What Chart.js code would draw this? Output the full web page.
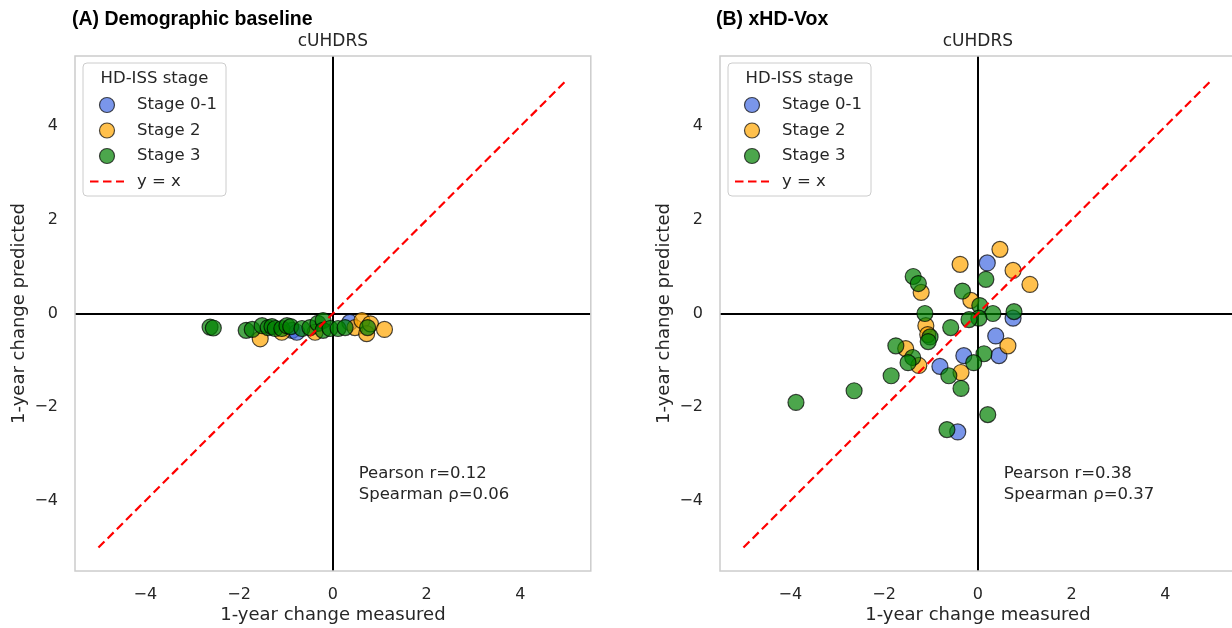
<!DOCTYPE html>
<html>
<head>
<meta charset="utf-8">
<script src="https://cdn.jsdelivr.net/npm/chart.js@4.4.1/dist/chart.umd.min.js"></script>
<style>
  html, body { margin: 0; padding: 0; background: #fff; overflow: hidden; width: 1232px; height: 628px; }
  .panel { position: absolute; top: 0; width: 600px; height: 628px; }
  .panel canvas { position: absolute; left: 0; top: 0; }
  .ptitle { position: absolute; top: 7px; font-family: "Liberation Sans", sans-serif; font-weight: bold; font-size: 19.5px; color: #000; white-space: nowrap; }
</style>
</head>
<body>
<div class="panel" style="left:0px">
  <canvas id="chartA" width="600" height="628"></canvas>
</div>
<div class="panel" style="left:645px">
  <canvas id="chartB" width="600" height="628"></canvas>
</div>
<div class="ptitle" style="left:72px">(A) Demographic baseline</div>
<div class="ptitle" style="left:716px">(B) xHD-Vox</div>
<script>
// 축 눈금
const tickValues = [-4, -2, 0, 2, 4];
const axisMin = -5.5, axisMax = 5.5;
const identityLine = [[-5, -5], [5, 5]];
const stageLabels = ['Stage 0-1', 'Stage 2', 'Stage 3'];

// (A) Demographic baseline  [measured, predicted]
const demoStage01 = [[-0.87, -0.36], [-0.77, -0.40], [0.36, -0.19]];
const demoStage2 = [[-1.55, -0.54], [-1.09, -0.40], [-0.38, -0.40], [0.47, -0.30], [0.62, -0.15],
  [0.72, -0.43], [0.80, -0.22], [1.10, -0.34]];
const demoStage3 = [[-2.62, -0.29], [-2.55, -0.31], [-1.85, -0.36], [-1.72, -0.34], [-1.51, -0.26],
  [-1.38, -0.30], [-1.30, -0.28], [-1.23, -0.32], [-1.09, -0.32], [-0.98, -0.26], [-0.90, -0.28],
  [-0.66, -0.32], [-0.49, -0.30], [-0.32, -0.21], [-0.21, -0.15], [-0.21, -0.36], [-0.06, -0.32],
  [0.11, -0.32], [0.26, -0.30], [0.74, -0.30]];
const demoStats = ['Pearson r=0.12', 'Spearman \u03c1=0.06'];

// (B) xHD-Vox
const voxStage01 = [[0.20, 1.08], [0.75, -0.10], [0.38, -0.48], [-0.30, -0.90], [0.45, -0.90],
  [-0.81, -1.13], [-0.43, -2.53]];
const voxStage2 = [[-0.38, 1.05], [0.47, 1.37], [0.75, 0.92], [1.11, 0.62], [-0.15, 0.28],
  [-1.21, 0.45], [-1.11, -0.26], [-1.07, -0.45], [-1.54, -0.75], [-1.26, -1.11], [-0.36, -1.26],
  [0.64, -0.69]];
const voxStage3 = [[-1.38, 0.79], [-1.27, 0.64], [0.17, 0.73], [-0.33, 0.48], [0.04, 0.17],
  [0.32, 0.00], [0.02, -0.10], [-0.19, -0.13], [-1.13, 0.00], [-0.58, -0.30], [-1.02, -0.50],
  [-1.06, -0.60], [0.77, 0.04], [0.13, -0.86], [-0.09, -1.05], [-0.62, -1.33], [-0.36, -1.60],
  [0.21, -2.16], [-0.66, -2.48], [-1.39, -0.94], [-1.49, -1.05], [-1.75, -0.69], [-1.85, -1.33],
  [-2.64, -1.65], [-3.88, -1.90]];
const voxStats = ['Pearson r=0.38', 'Spearman \u03c1=0.37'];

const stageColors = ['rgba(65,105,225,0.7)', 'rgba(255,165,0,0.7)', 'rgba(0,128,0,0.7)'];
const textColor = '#262626';
const fontFamily = '"DejaVu Sans", sans-serif';

const toXY = arr => arr.map(p => ({ x: p[0], y: p[1] }));

// 외곽선 + 범례 + 상관계수
const framePlugin = {
    id: 'frame',
    beforeDatasetsDraw(chart) {
        const a = chart.chartArea, ctx = chart.ctx;
        ctx.save();
        ctx.strokeStyle = '#cccccc';
        ctx.lineWidth = 1.5;
        ctx.strokeRect(a.left, a.top, a.right - a.left, a.bottom - a.top);
        ctx.restore();
    },
    afterDraw(chart, args, opts) {
        const a = chart.chartArea, ctx = chart.ctx;
        ctx.save();
        // 범례 박스
        const bx = a.left + 8, by = a.top + 7, bw = 143, bh = 133;
        ctx.beginPath();
        ctx.roundRect(bx, by, bw, bh, 4);
        ctx.fillStyle = 'rgba(255,255,255,0.8)';
        ctx.fill();
        ctx.strokeStyle = '#cccccc';
        ctx.lineWidth = 1;
        ctx.stroke();
        ctx.fillStyle = textColor;
        ctx.font = '16.5px ' + fontFamily;
        ctx.textBaseline = 'middle';
        ctx.textAlign = 'center';
        ctx.fillText('HD-ISS stage', bx + bw / 2, a.top + 23);
        ctx.textAlign = 'left';
        chart.data.datasets.forEach((ds, i) => {
            const y = a.top + 49 + i * 25.5;
            const mx = a.left + 32;
            if (ds.type === 'line') {
                ctx.strokeStyle = ds.borderColor;
                ctx.lineWidth = 2;
                ctx.setLineDash(ds.borderDash);
                ctx.beginPath();
                ctx.moveTo(mx - 17, y);
                ctx.lineTo(mx + 17, y);
                ctx.stroke();
                ctx.setLineDash([]);
            } else {
                ctx.beginPath();
                ctx.arc(mx, y, 7.5, 0, Math.PI * 2);
                ctx.fillStyle = ds.backgroundColor;
                ctx.fill();
                ctx.strokeStyle = ds.borderColor;
                ctx.lineWidth = 1.2;
                ctx.stroke();
            }
            ctx.fillStyle = textColor;
            ctx.fillText(ds.label, a.left + 62, y);
        });
        // 상관계수 텍스트
        ctx.font = '16.5px ' + fontFamily;
        const tx = a.left + 0.55 * (a.right - a.left);
        const ty = a.top + 0.812 * (a.bottom - a.top);
        opts.stats.forEach((s, i) => ctx.fillText(s, tx, ty + i * 21));
        ctx.restore();
    }
};

function zeroLine(ctx) {
    return ctx.tick && ctx.tick.value === 0 ? '#000000' : 'rgba(0,0,0,0)';
}

function setTicks(scale) {
    scale.ticks = tickValues.map(v => ({ value: v }));
}

function fmt(v) {
    return String(v).replace('-', '\u2212');
}

function makeChart(id, s01, s2, s3, stats) {
    const ctx = document.getElementById(id).getContext('2d');
    const groups = [s01, s2, s3];
    const datasets = groups.map((g, i) => ({
        type: 'scatter',
        label: stageLabels[i],
        data: toXY(g),
        backgroundColor: stageColors[i],
        borderColor: 'rgba(0,0,0,0.7)',
        borderWidth: 1.2,
        pointRadius: 8,
        pointHoverRadius: 8,
        order: 4 - i
    }));
    datasets.push({
        type: 'line',
        label: 'y = x',
        data: toXY(identityLine),
        borderColor: '#ff0000',
        borderWidth: 2.2,
        borderDash: [8.5, 4.5],
        pointRadius: 0,
        fill: false,
        order: 0
    });
    return new Chart(ctx, {
        type: 'scatter',
        data: { datasets: datasets },
        options: {
            responsive: false,
            animation: false,
            layout: { padding: { left: 0, right: 9, top: 0, bottom: 0 } },
            plugins: {
                legend: { display: false },
                tooltip: { enabled: false },
                frame: { stats: stats }
            },
            scales: {
                x: {
                    type: 'linear', position: 'bottom', min: axisMin, max: axisMax,
                    afterBuildTicks: setTicks,
                    afterFit: s => { s.height = 57; },
                    border: { display: false },
                    grid: { color: zeroLine, lineWidth: 2, drawTicks: false },
                    ticks: { padding: 14, color: textColor, font: { size: 16, family: fontFamily }, callback: fmt },
                    title: { display: true, text: '1-year change measured', color: textColor,
                             font: { size: 18, family: fontFamily }, padding: { top: 0, bottom: 2 } }
                },
                x2: {
                    type: 'linear', position: 'top', min: axisMin, max: axisMax,
                    afterFit: s => { s.height = 56; },
                    border: { display: false },
                    grid: { display: false },
                    ticks: { display: false },
                    title: { display: true, text: 'cUHDRS', color: textColor,
                             font: { size: 17, family: fontFamily }, padding: { top: 31, bottom: 0 } }
                },
                y: {
                    type: 'linear', position: 'left', min: axisMin, max: axisMax,
                    afterBuildTicks: setTicks,
                    afterFit: s => { s.width = 75; },
                    border: { display: false },
                    grid: { color: zeroLine, lineWidth: 2, drawTicks: false },
                    ticks: { padding: 17, color: textColor, font: { size: 16, family: fontFamily }, callback: fmt },
                    title: { display: true, text: '1-year change predicted', color: textColor,
                             font: { size: 18, family: fontFamily }, padding: { top: 9, bottom: 0 } }
                }
            }
        },
        plugins: [framePlugin]
    });
}

makeChart('chartA', demoStage01, demoStage2, demoStage3, demoStats);
makeChart('chartB', voxStage01, voxStage2, voxStage3, voxStats);
</script>
</body>
</html>
